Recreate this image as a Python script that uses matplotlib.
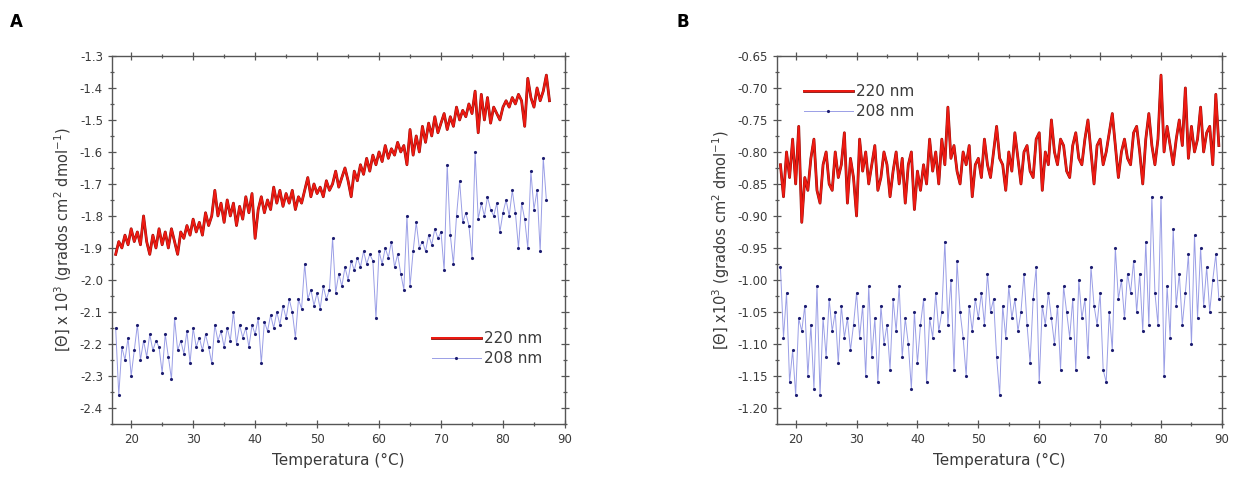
import numpy as np
import matplotlib
matplotlib.use("Agg")
import matplotlib.pyplot as plt
from matplotlib.ticker import AutoMinorLocator, MultipleLocator
import matplotlib.patheffects as pe

# panel A - 220 nm, from 17.5 C every 0.5 C
a220 = [-1.92, -1.88, -1.90, -1.86, -1.89, -1.84, -1.88, -1.85, -1.89, -1.80,
        -1.88, -1.92, -1.86, -1.90, -1.84, -1.89, -1.85, -1.90, -1.84, -1.88,
        -1.92, -1.85, -1.87, -1.83, -1.86, -1.81, -1.85, -1.82, -1.86, -1.79,
        -1.83, -1.80, -1.72, -1.80, -1.76, -1.82, -1.75, -1.80, -1.76, -1.83,
        -1.77, -1.81, -1.74, -1.79, -1.73, -1.87, -1.78, -1.74, -1.79, -1.75,
        -1.78, -1.71, -1.76, -1.72, -1.77, -1.73, -1.76, -1.72, -1.78, -1.74,
        -1.76, -1.72, -1.68, -1.74, -1.70, -1.73, -1.71, -1.74, -1.69, -1.72,
        -1.70, -1.66, -1.71, -1.68, -1.65, -1.69, -1.74, -1.66, -1.69, -1.64,
        -1.67, -1.62, -1.66, -1.61, -1.64, -1.60, -1.63, -1.58, -1.62, -1.59,
        -1.61, -1.57, -1.60, -1.58, -1.64, -1.53, -1.61, -1.55, -1.60, -1.52,
        -1.57, -1.51, -1.55, -1.49, -1.54, -1.51, -1.48, -1.53, -1.49, -1.52,
        -1.46, -1.50, -1.47, -1.49, -1.45, -1.48, -1.41, -1.54, -1.42, -1.50,
        -1.43, -1.51, -1.46, -1.48, -1.50, -1.46, -1.44, -1.46, -1.43, -1.45,
        -1.42, -1.44, -1.52, -1.37, -1.43, -1.46, -1.40, -1.44, -1.41, -1.36,
        -1.44]

# panel A - 208 nm
a208 = [-2.15, -2.36, -2.21, -2.25, -2.18, -2.30, -2.22, -2.14, -2.25, -2.19,
        -2.24, -2.17, -2.22, -2.19, -2.21, -2.29, -2.17, -2.24, -2.31, -2.12,
        -2.22, -2.19, -2.23, -2.16, -2.26, -2.15, -2.21, -2.18, -2.22, -2.17,
        -2.21, -2.26, -2.14, -2.19, -2.16, -2.21, -2.15, -2.19, -2.10, -2.20,
        -2.14, -2.18, -2.15, -2.21, -2.14, -2.17, -2.12, -2.26, -2.13, -2.16,
        -2.11, -2.15, -2.10, -2.14, -2.08, -2.12, -2.06, -2.10, -2.18, -2.06,
        -2.09, -1.95, -2.06, -2.03, -2.08, -2.04, -2.09, -2.02, -2.06, -2.03,
        -1.87, -2.04, -1.98, -2.02, -1.96, -2.00, -1.94, -1.97, -1.93, -1.96,
        -1.91, -1.95, -1.92, -1.94, -2.12, -1.91, -1.95, -1.90, -1.93, -1.88,
        -1.96, -1.92, -1.98, -2.03, -1.80, -2.02, -1.91, -1.82, -1.90, -1.88,
        -1.91, -1.86, -1.89, -1.84, -1.87, -1.85, -1.97, -1.64, -1.86, -1.95,
        -1.80, -1.69, -1.82, -1.79, -1.83, -1.93, -1.60, -1.81, -1.76, -1.80,
        -1.74, -1.78, -1.80, -1.76, -1.85, -1.79, -1.75, -1.80, -1.72, -1.79,
        -1.90, -1.76, -1.81, -1.90, -1.66, -1.78, -1.72, -1.91, -1.62, -1.75]

# panel B - 220 nm
b220 = [-0.82, -0.87, -0.80, -0.84, -0.78, -0.85, -0.76, -0.91, -0.84, -0.86,
        -0.81, -0.78, -0.86, -0.88, -0.82, -0.80, -0.85, -0.86, -0.80, -0.84,
        -0.82, -0.77, -0.88, -0.81, -0.84, -0.90, -0.78, -0.83, -0.80, -0.85,
        -0.82, -0.79, -0.86, -0.84, -0.80, -0.82, -0.87, -0.83, -0.80, -0.85,
        -0.81, -0.88, -0.82, -0.80, -0.89, -0.83, -0.86, -0.82, -0.85, -0.78,
        -0.83, -0.80, -0.85, -0.78, -0.82, -0.73, -0.81, -0.79, -0.83, -0.85,
        -0.80, -0.82, -0.79, -0.87, -0.82, -0.81, -0.84, -0.78, -0.82, -0.84,
        -0.80, -0.76, -0.81, -0.82, -0.86, -0.80, -0.83, -0.77, -0.81, -0.85,
        -0.80, -0.79, -0.83, -0.84, -0.78, -0.77, -0.86, -0.80, -0.82, -0.75,
        -0.80, -0.82, -0.78, -0.79, -0.83, -0.84, -0.79, -0.77, -0.81, -0.82,
        -0.78, -0.75, -0.80, -0.85, -0.79, -0.78, -0.82, -0.80, -0.77, -0.74,
        -0.79, -0.84, -0.80, -0.78, -0.81, -0.82, -0.77, -0.76, -0.80, -0.85,
        -0.78, -0.74, -0.79, -0.82, -0.78, -0.68, -0.80, -0.76, -0.79, -0.82,
        -0.78, -0.75, -0.79, -0.70, -0.81, -0.76, -0.80, -0.78, -0.73, -0.80,
        -0.77, -0.76, -0.82, -0.71, -0.79]

# panel B - 208 nm
b208 = [-0.98, -1.09, -1.02, -1.16, -1.11, -1.18, -1.06, -1.08, -1.04, -1.15,
        -1.07, -1.17, -1.01, -1.18, -1.06, -1.12, -1.03, -1.08, -1.05, -1.13,
        -1.04, -1.09, -1.06, -1.11, -1.07, -1.02, -1.09, -1.04, -1.15, -1.01,
        -1.12, -1.06, -1.16, -1.04, -1.10, -1.07, -1.14, -1.03, -1.08, -1.01,
        -1.12, -1.06, -1.10, -1.17, -1.05, -1.13, -1.07, -1.03, -1.16, -1.06,
        -1.09, -1.02, -1.08, -1.05, -0.94, -1.07, -1.00, -1.14, -0.97, -1.05,
        -1.09, -1.15, -1.04, -1.08, -1.03, -1.06, -1.02, -1.07, -0.99, -1.05,
        -1.03, -1.12, -1.18, -1.04, -1.09, -1.01, -1.06, -1.03, -1.08, -1.05,
        -0.99, -1.07, -1.13, -1.03, -0.98, -1.16, -1.04, -1.07, -1.02, -1.06,
        -1.10, -1.04, -1.14, -1.01, -1.05, -1.09, -1.03, -1.14, -1.00, -1.06,
        -1.03, -1.12, -0.98, -1.04, -1.07, -1.02, -1.14, -1.16, -1.05, -1.11,
        -0.95, -1.03, -1.00, -1.06, -0.99, -1.02, -0.97, -1.05, -0.99, -1.08,
        -0.94, -1.07, -0.87, -1.02, -1.07, -0.87, -1.15, -1.01, -1.09, -0.92,
        -1.04, -0.99, -1.07, -1.02, -0.96, -1.10, -0.93, -1.06, -0.95, -1.04,
        -0.98, -1.05, -1.00, -0.96, -1.03]

t_start = 17.5
t_step = 0.5

red = '#ee1a12'
blue_line = '#9a9ee6'
blue_dot = '#1c1c70'
txt = '#3a3a3a'


def temps(vals):
    return t_start + t_step * np.arange(len(vals))


def style_axes(ax, ylim, ymajor):
    ax.set_xlim(16.9, 90)
    ax.set_ylim(*ylim)
    ax.xaxis.set_major_locator(MultipleLocator(10))
    ax.yaxis.set_major_locator(MultipleLocator(ymajor))
    ax.xaxis.set_minor_locator(AutoMinorLocator(2))
    ax.yaxis.set_minor_locator(AutoMinorLocator(2))
    ax.tick_params(which='both', direction='inout', top=True, right=True,
                   labelsize=8.5, labelcolor=txt, color='#555555', width=0.9)
    ax.tick_params(which='major', length=6)
    ax.tick_params(which='minor', length=3)
    for s in ax.spines.values():
        s.set_color('#555555')
        s.set_linewidth(1.0)
    ax.set_xlabel("Temperatura (°C)", fontsize=11, color=txt, labelpad=5)


def draw(ax, v220, v208):
    ax.plot(temps(v208), v208, color=blue_line, lw=0.7, marker='.',
            ms=2.5, mfc=blue_dot, mec=blue_dot, label='208 nm')
    ax.plot(temps(v220), v220, color=red, lw=1.4, label='220 nm',
            path_effects=[pe.Stroke(linewidth=2.0, foreground='#8a0c08'),
                          pe.Normal()])


fig = plt.figure(figsize=(12.33, 4.78), dpi=100)
axA = fig.add_axes([0.0908, 0.113, 0.3674, 0.770])
axB = fig.add_axes([0.630, 0.113, 0.361, 0.770])

draw(axA, a220, a208)
style_axes(axA, (-2.45, -1.3), 0.1)
axA.yaxis.set_major_formatter(plt.FuncFormatter(lambda v, p: f"{v:.1f}"))
axA.set_ylabel("[Θ] x 10$^3$ (grados cm$^2$ dmol$^{-1}$)", fontsize=10.5,
               color=txt, labelpad=4)
h, l = axA.get_legend_handles_labels()
axA.legend(h[::-1], l[::-1], loc='lower right', bbox_to_anchor=(0.98, 0.12),
           frameon=False, fontsize=11, handlelength=3.2, handletextpad=0.2,
           labelspacing=0.3, labelcolor=txt)

draw(axB, b220, b208)
style_axes(axB, (-1.225, -0.65), 0.05)
axB.yaxis.set_major_formatter(plt.FuncFormatter(lambda v, p: f"{v:.2f}"))
axB.set_ylabel("[Θ] x10$^3$ (grados cm$^2$ dmol$^{-1}$)", fontsize=10.5,
               color=txt, labelpad=4)
h, l = axB.get_legend_handles_labels()
axB.legend(h[::-1], l[::-1], loc='upper left', bbox_to_anchor=(0.03, 0.96),
           frameon=False, fontsize=11, handlelength=3.2, handletextpad=0.2,
           labelspacing=0.3, labelcolor=txt)

fig.text(10 / 1233, 1 - 22 / 478, "A", fontsize=12, fontweight='bold',
         va='center', ha='left')
fig.text(676 / 1233, 1 - 22 / 478, "B", fontsize=12, fontweight='bold',
         va='center', ha='left')

fig.savefig("out.png", dpi=100)
